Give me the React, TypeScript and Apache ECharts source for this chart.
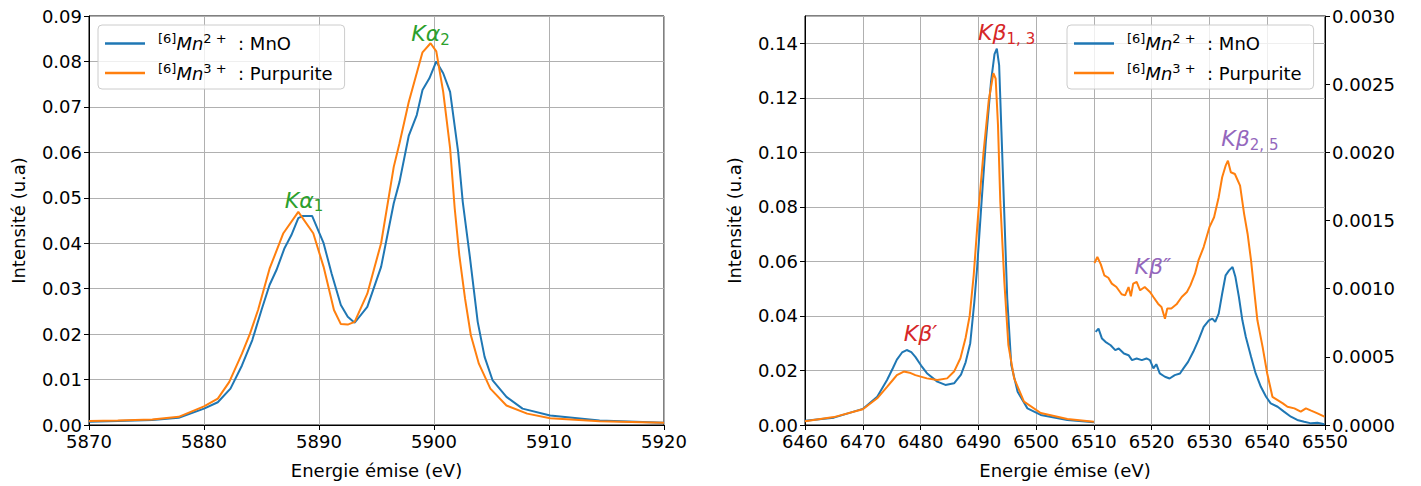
import React, { useEffect, useRef } from "react";
import * as echarts from "echarts";

// ---- Kα region (left panel) ----
const kaEnergyMnO = [5870, 5872.5, 5875.5, 5877.8, 5880, 5881.2, 5882.3, 5883.3, 5884.2, 5885.0, 5885.7, 5886.3, 5887.0, 5887.6, 5888.2, 5888.6, 5889.4, 5890.4, 5891.1, 5891.9, 5892.5, 5893.1, 5894.2, 5895.4, 5896.5, 5897.0, 5897.8, 5898.5, 5899.0, 5899.6, 5900.2, 5900.8, 5901.4, 5902.1, 5902.5, 5903.1, 5903.8, 5904.4, 5905.1, 5906.3, 5907.7, 5910.1, 5914.4, 5920];
const kaMnO = [0.0007, 0.0009, 0.0011, 0.0016, 0.0036, 0.0050, 0.0080, 0.0131, 0.0187, 0.0253, 0.0308, 0.0341, 0.0389, 0.0418, 0.0455, 0.0460, 0.0460, 0.0400, 0.0333, 0.0264, 0.0238, 0.0225, 0.0260, 0.0348, 0.0488, 0.0535, 0.0636, 0.0682, 0.0737, 0.0763, 0.0800, 0.0774, 0.0733, 0.0601, 0.0491, 0.0374, 0.0227, 0.0150, 0.0098, 0.0062, 0.0036, 0.0021, 0.0010, 0.0005];
const kaEnergyPurp = [5870, 5872.5, 5875.5, 5877.8, 5880, 5881.2, 5882.2, 5883.3, 5884.0, 5884.7, 5885.7, 5886.9, 5888.2, 5889.5, 5890.4, 5891.3, 5891.9, 5892.5, 5893.1, 5894.2, 5895.4, 5896.5, 5897.0, 5897.8, 5899.0, 5899.7, 5900.2, 5900.8, 5901.4, 5901.8, 5902.2, 5902.7, 5903.2, 5903.9, 5904.9, 5906.3, 5908.1, 5910.1, 5914.4, 5920];
const kaPurp = [0.0009, 0.0010, 0.0012, 0.0018, 0.0041, 0.0058, 0.0095, 0.0157, 0.0201, 0.0253, 0.0344, 0.0422, 0.0469, 0.0422, 0.0348, 0.0253, 0.0222, 0.0221, 0.0227, 0.0289, 0.0400, 0.0568, 0.0620, 0.0710, 0.0820, 0.0840, 0.0822, 0.0733, 0.0609, 0.0477, 0.0374, 0.0278, 0.0198, 0.0135, 0.0080, 0.0043, 0.0025, 0.0015, 0.0008, 0.0005];

// ---- Kβ main region (right panel, left axis) ----
const kbEnergyMnO = [6460, 6465, 6470, 6472.5, 6474.2, 6475.2, 6475.9, 6476.8, 6477.6, 6478.4, 6479.1, 6480.1, 6481.1, 6482.9, 6484.3, 6485.8, 6487.0, 6487.8, 6488.6, 6489.3, 6489.8, 6490.5, 6491.3, 6492.2, 6492.8, 6493.2, 6493.6, 6494.0, 6494.5, 6495.0, 6495.7, 6496.8, 6498.5, 6500.8, 6505.4, 6510.0];
const kbMnO = [0.0016, 0.0027, 0.0059, 0.0104, 0.0165, 0.0208, 0.0240, 0.0266, 0.0275, 0.0267, 0.0250, 0.0218, 0.0190, 0.0159, 0.0147, 0.0153, 0.0185, 0.0230, 0.0300, 0.0450, 0.0580, 0.0800, 0.1040, 0.1260, 0.1360, 0.1380, 0.1320, 0.1076, 0.0770, 0.0465, 0.0220, 0.0122, 0.0061, 0.0037, 0.0018, 0.0010];
const kbEnergyPurp = [6460, 6465, 6470, 6472.5, 6474.2, 6475.2, 6475.9, 6477.1, 6478.1, 6479.1, 6481.1, 6482.9, 6484.6, 6485.8, 6486.9, 6487.8, 6488.5, 6489.2, 6490.0, 6490.9, 6491.8, 6492.6, 6493.0, 6493.4, 6493.8, 6494.5, 6495.2, 6496.2, 6497.9, 6500.8, 6505.4, 6510.0];
const kbPurp = [0.0014, 0.0029, 0.0058, 0.0098, 0.0140, 0.0165, 0.0183, 0.0196, 0.0192, 0.0183, 0.0171, 0.0165, 0.0171, 0.0196, 0.0245, 0.0320, 0.0400, 0.0550, 0.0780, 0.1000, 0.1190, 0.1290, 0.1270, 0.1100, 0.0820, 0.0526, 0.0293, 0.0171, 0.0086, 0.0044, 0.0022, 0.0012];

// ---- Kβ satellite region (right panel, right axis) ----
const tailEnergyMnO = [6510.3, 6510.8, 6511.4, 6512.0, 6512.9, 6513.7, 6514.3, 6515.2, 6516.0, 6516.6, 6517.4, 6518.3, 6519.1, 6519.7, 6520.3, 6520.8, 6521.4, 6522.3, 6523.1, 6524.0, 6524.9, 6525.5, 6526.3, 6527.2, 6528.1, 6529.0, 6529.9, 6530.5, 6531.0, 6531.6, 6532.2, 6532.8, 6533.4, 6534.0, 6534.5, 6535.1, 6535.7, 6536.3, 6537.2, 6538.0, 6538.9, 6539.8, 6540.6, 6541.8, 6542.9, 6544.1, 6545.2, 6546.4, 6547.6, 6548.7, 6549.9];
const tailMnO = [0.000683, 0.000707, 0.000634, 0.000610, 0.000585, 0.000549, 0.000561, 0.000524, 0.000512, 0.000476, 0.000488, 0.000476, 0.000488, 0.000476, 0.000415, 0.000446, 0.000378, 0.000354, 0.000341, 0.000366, 0.000378, 0.000415, 0.000463, 0.000537, 0.000622, 0.000720, 0.000768, 0.000780, 0.000756, 0.000817, 0.000963, 0.001098, 0.001134, 0.001159, 0.001085, 0.000939, 0.000768, 0.000646, 0.000500, 0.000378, 0.000280, 0.000207, 0.000159, 0.000134, 0.000098, 0.000061, 0.000037, 0.000024, 0.000012, 0.000017, 0.000005];
const tailEnergyPurp = [6510.1, 6510.6, 6511.2, 6511.8, 6512.5, 6513.1, 6513.9, 6514.8, 6515.4, 6516.0, 6516.4, 6516.8, 6517.4, 6518.0, 6518.8, 6519.7, 6520.3, 6521.1, 6521.7, 6522.3, 6522.7, 6523.4, 6524.3, 6525.2, 6526.1, 6526.7, 6527.5, 6528.1, 6529.0, 6530.0, 6530.8, 6531.6, 6532.2, 6532.8, 6533.2, 6533.7, 6534.4, 6535.3, 6536.0, 6536.6, 6537.2, 6537.8, 6538.3, 6539.2, 6540.0, 6540.9, 6541.8, 6542.7, 6543.5, 6544.7, 6545.8, 6546.7, 6547.6, 6548.7, 6549.9];
const tailPurp = [0.001188, 0.001232, 0.001178, 0.001098, 0.001080, 0.001037, 0.001012, 0.000959, 0.000951, 0.001012, 0.000944, 0.001037, 0.001049, 0.000988, 0.001012, 0.000976, 0.000939, 0.000890, 0.000866, 0.000780, 0.000854, 0.000854, 0.000885, 0.000939, 0.000976, 0.001024, 0.001110, 0.001207, 0.001305, 0.001451, 0.001524, 0.001671, 0.001817, 0.001902, 0.001939, 0.001854, 0.001841, 0.001756, 0.001549, 0.001403, 0.001207, 0.000963, 0.000768, 0.000573, 0.000378, 0.000207, 0.000183, 0.000159, 0.000134, 0.000122, 0.000098, 0.000122, 0.000105, 0.000085, 0.000061];

// ---- annotations: [energy, intensity] in data space ----
const annKa1 = [5888.7, 0.0495];
const annKa2 = [5899.7, 0.0861];
const annKbPrime = [6480.0, 0.0334];
const annKb13 = [6494.9, 0.1438];
const annKbDouble = [6520.2, 0.001163];
const annKb25 = [6537.0, 0.0021];

const seriesNames = ["MnO", "Purpurite"];

const FONT = "DejaVu Sans";
const BLUE = "#1f77b4";
const ORANGE = "#ff7f0e";
const GREEN = "#2ca02c";
const RED = "#d62728";
const PURPLE = "#9467bd";
const FS = 18;

function pairs(xs: number[], ys: number[]) {
  return xs.map((x, i) => [x, ys[i]]);
}

function annot(coord: number[], main: string, sub: string, color: string) {
  return {
    coord,
    value: main,
    label: {
      show: true,
      position: "inside",
      formatter: sub ? `{k|${main}}{s|${sub}}` : `{k|${main}}`,
      rich: {
        k: { fontSize: 22, lineHeight: 27, fontStyle: "italic", fontFamily: FONT, color },
        s: { fontSize: 15, lineHeight: 15, verticalAlign: "bottom", fontFamily: FONT, color },
      },
    },
  };
}

function markPoints(items: any[]) {
  return {
    symbol: "circle",
    symbolSize: 1,
    silent: true,
    itemStyle: { color: "rgba(0,0,0,0)" },
    data: items,
  };
}

export default function App() {
  const ref = useRef<HTMLDivElement>(null);
  useEffect(() => {
    const chart = echarts.init(ref.current!, null, { renderer: "svg" });
    const txt = { fontFamily: FONT, color: "#000" };
    const legendRich = {
      supL: { ...txt, fontSize: 13, lineHeight: 12, verticalAlign: "top", padding: [0, 0, 0, 8] },
      sup: { ...txt, fontSize: 13, lineHeight: 12, verticalAlign: "top" },
      it: { ...txt, fontSize: FS, lineHeight: 23, fontStyle: "italic" },
      n: { ...txt, fontSize: FS, lineHeight: 23 },
    };
    const legendFormatter = (name: string) =>
      name === "MnO"
        ? "{supL|[6]}{it|Mn}{sup|2 +}{n|  : MnO}"
        : "{supL|[6]}{it|Mn}{sup|3 +}{n|  : Purpurite}";
    const legendBase = {
      orient: "vertical",
      top: 25,
      data: seriesNames,
      icon: "rect",
      itemWidth: 40,
      itemHeight: 2.5,
      itemGap: 9,
      padding: [7, 12, 7, 7],
      backgroundColor: "rgba(255,255,255,0.8)",
      borderColor: "#cccccc",
      borderWidth: 1,
      borderRadius: 4,
      selectedMode: false,
      formatter: legendFormatter,
      textStyle: { ...txt, fontSize: FS, rich: legendRich },
    };
    const axisCommon = {
      axisLine: { show: true, onZero: false, lineStyle: { color: "#000", width: 1 } },
      axisTick: { show: true, inside: false, length: 5, lineStyle: { color: "#000", width: 1 } },
      axisLabel: { ...txt, fontSize: FS, margin: 7 },
      nameTextStyle: { ...txt, fontSize: FS },
    };
    const grid = { color: "#b0b0b0", width: 1 };
    const lineSeries = (name: string, color: string, data: number[][], xi: number, yi: number, extra: any = {}) => ({
      type: "line",
      name,
      data,
      xAxisIndex: xi,
      yAxisIndex: yi,
      color,
      showSymbol: false,
      symbol: "none",
      lineStyle: { color, width: 2 },
      ...extra,
    });

    chart.setOption({
      animation: false,
      backgroundColor: "#ffffff",
      grid: [
        { left: 89, right: 757, top: 16, bottom: 61, show: true, borderColor: "#000", borderWidth: 1, backgroundColor: "transparent" },
        { left: 805, right: 96, top: 16, bottom: 61, show: true, borderColor: "#000", borderWidth: 1, backgroundColor: "transparent" },
      ],
      legend: [
        { ...legendBase, left: 98 },
        { ...legendBase, left: 1067 },
      ],
      xAxis: [
        {
          ...axisCommon,
          type: "value",
          gridIndex: 0,
          min: 5870,
          max: 5920,
          interval: 10,
          name: "Energie émise (eV)",
          nameLocation: "middle",
          nameGap: 36,
          axisLabel: { ...axisCommon.axisLabel, formatter: (v: number) => String(v) },
          splitLine: { show: true, lineStyle: grid },
        },
        {
          ...axisCommon,
          type: "value",
          gridIndex: 1,
          min: 6460,
          max: 6550,
          interval: 10,
          name: "Energie émise (eV)",
          nameLocation: "middle",
          nameGap: 36,
          axisLabel: { ...axisCommon.axisLabel, formatter: (v: number) => String(v) },
          splitLine: { show: true, lineStyle: grid },
        },
      ],
      yAxis: [
        {
          ...axisCommon,
          type: "value",
          gridIndex: 0,
          min: 0,
          max: 0.09,
          interval: 0.01,
          name: "Intensité (u.a)",
          nameLocation: "middle",
          nameRotate: 90,
          nameGap: 62,
          axisLabel: { ...axisCommon.axisLabel, formatter: (v: number) => v.toFixed(2) },
          splitLine: { show: true, lineStyle: grid },
        },
        {
          ...axisCommon,
          type: "value",
          gridIndex: 1,
          min: 0,
          max: 0.15,
          interval: 0.02,
          name: "Intensité (u.a)",
          nameLocation: "middle",
          nameRotate: 90,
          nameGap: 62,
          axisLabel: { ...axisCommon.axisLabel, showMaxLabel: false, formatter: (v: number) => (v > 0.145 ? "" : v.toFixed(2)) },
          splitLine: { show: true, lineStyle: grid },
        },
        {
          ...axisCommon,
          type: "value",
          gridIndex: 1,
          position: "right",
          min: 0,
          max: 0.003,
          interval: 0.0005,
          axisLabel: { ...axisCommon.axisLabel, formatter: (v: number) => v.toFixed(4) },
          splitLine: { show: false },
        },
      ],
      series: [
        lineSeries(seriesNames[0], BLUE, pairs(kaEnergyMnO, kaMnO), 0, 0, {
          markPoint: markPoints([annot(annKa1, "Kα", "1", GREEN), annot(annKa2, "Kα", "2", GREEN)]),
        }),
        lineSeries(seriesNames[1], ORANGE, pairs(kaEnergyPurp, kaPurp), 0, 0),
        lineSeries(seriesNames[0], BLUE, pairs(kbEnergyMnO, kbMnO), 1, 1, {
          markPoint: markPoints([annot(annKbPrime, "Kβ′", "", RED), annot(annKb13, "Kβ", "1, 3", RED)]),
        }),
        lineSeries(seriesNames[1], ORANGE, pairs(kbEnergyPurp, kbPurp), 1, 1),
        lineSeries(seriesNames[0], BLUE, pairs(tailEnergyMnO, tailMnO), 1, 2, {
          markPoint: markPoints([annot(annKbDouble, "Kβ″", "", PURPLE), annot(annKb25, "Kβ", "2, 5", PURPLE)]),
        }),
        lineSeries(seriesNames[1], ORANGE, pairs(tailEnergyPurp, tailPurp), 1, 2),
      ],
    });
    return () => chart.dispose();
  }, []);
  return <div ref={ref} style={{ position: "absolute", left: 0, top: 0, width: 1421, height: 486 }} />;
}
